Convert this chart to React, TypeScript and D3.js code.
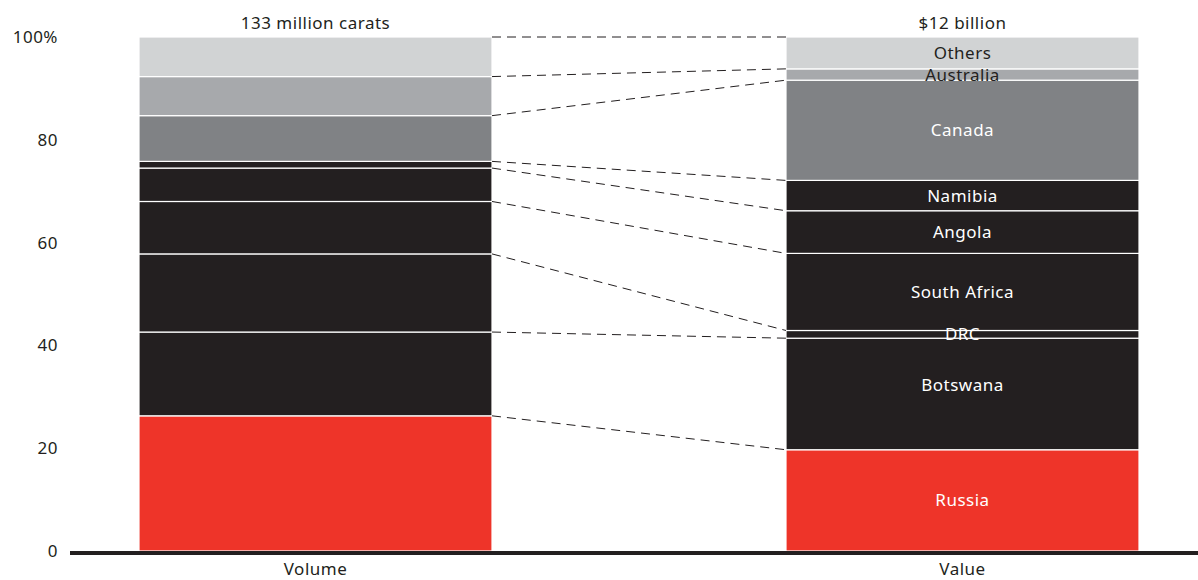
import React from "react";
import * as d3 from "d3";

const countries = ["Russia", "Botswana", "DRC", "South Africa", "Angola", "Namibia", "Canada", "Australia", "Others"];
const volumeShare = [26.3, 16.3, 15.2, 10.2, 6.5, 1.3, 8.9, 7.6, 7.7];
const valueShare = [19.7, 21.7, 1.5, 15.0, 8.3, 5.9, 19.5, 2.2, 6.2];
const barNames = ["Volume", "Value"];
const barTotals = ["133 million carats", "$12 billion"];
const yTicks = [0, 20, 40, 60, 80, 100];

const colors = ["#ee3429", "#231f20", "#231f20", "#231f20", "#231f20", "#231f20", "#808285", "#a7a9ac", "#d1d3d4"];
const labelColors = ["#fff", "#fff", "#fff", "#fff", "#fff", "#fff", "#fff", "#231f20", "#231f20"];
const labelDy: Record<string, number> = { Botswana: -9, Australia: 1 };

const W = 1198;
const H = 580;
const FONT = "'Noto Sans', sans-serif";
const FS = 17;
const LS = 0.5;

export default function App() {
  const y = d3.scaleLinear().domain([0, 100]).range([551, 37]);
  const x = d3.scaleOrdinal<string, number>().domain(barNames).range([139, 786]);
  const barW = 353;
  const series = [volumeShare, valueShare];
  const stacks = series.map((vals) => {
    let acc = 0;
    return vals.map((v) => {
      const s = { y0: acc, y1: acc + v };
      acc += v;
      return s;
    });
  });
  return (
    <svg width={W} height={H} style={{ position: "absolute", left: 0, top: 0, fontFamily: FONT, letterSpacing: LS }}>
      {yTicks.map((t) => (
        <text key={t} x={58} y={y(t)} dy="0.35em" textAnchor="end" fontSize={FS} fill="#231f20">
          {t === 100 ? "100%" : t}
        </text>
      ))}
      {barNames.map((b, bi) => (
        <g key={b}>
          {stacks[bi].map((s, i) => (
            <rect
              key={i}
              x={x(b)}
              y={y(s.y1)}
              width={barW}
              height={y(s.y0) - y(s.y1)}
              fill={colors[i]}
              stroke="#fff"
              strokeWidth={1.2}
            />
          ))}
          <text x={x(b) + barW / 2} y={23} dy="0.35em" textAnchor="middle" fontSize={FS} fill="#231f20">
            {barTotals[bi]}
          </text>
          <text x={x(b) + barW / 2} y={569} dy="0.35em" textAnchor="middle" fontSize={FS} fill="#231f20">
            {b}
          </text>
        </g>
      ))}
      {stacks[1].map((s, i) => (
        <text
          key={countries[i]}
          x={x("Value") + barW / 2}
          y={(y(s.y0) + y(s.y1)) / 2 + (labelDy[countries[i]] || 0)}
          dy="0.35em"
          textAnchor="middle"
          fontSize={FS}
          fill={labelColors[i]}
        >
          {countries[i]}
        </text>
      ))}
      {stacks[0].map((s, i) => (
        <line
          key={i}
          x1={x("Volume") + barW}
          y1={y(s.y1)}
          x2={x("Value")}
          y2={y(stacks[1][i].y1)}
          stroke="#231f20"
          strokeWidth={1}
          strokeDasharray="9,6"
        />
      ))}
      <line x1={70} x2={W} y1={553} y2={553} stroke="#231f20" strokeWidth={4} />
    </svg>
  );
}
